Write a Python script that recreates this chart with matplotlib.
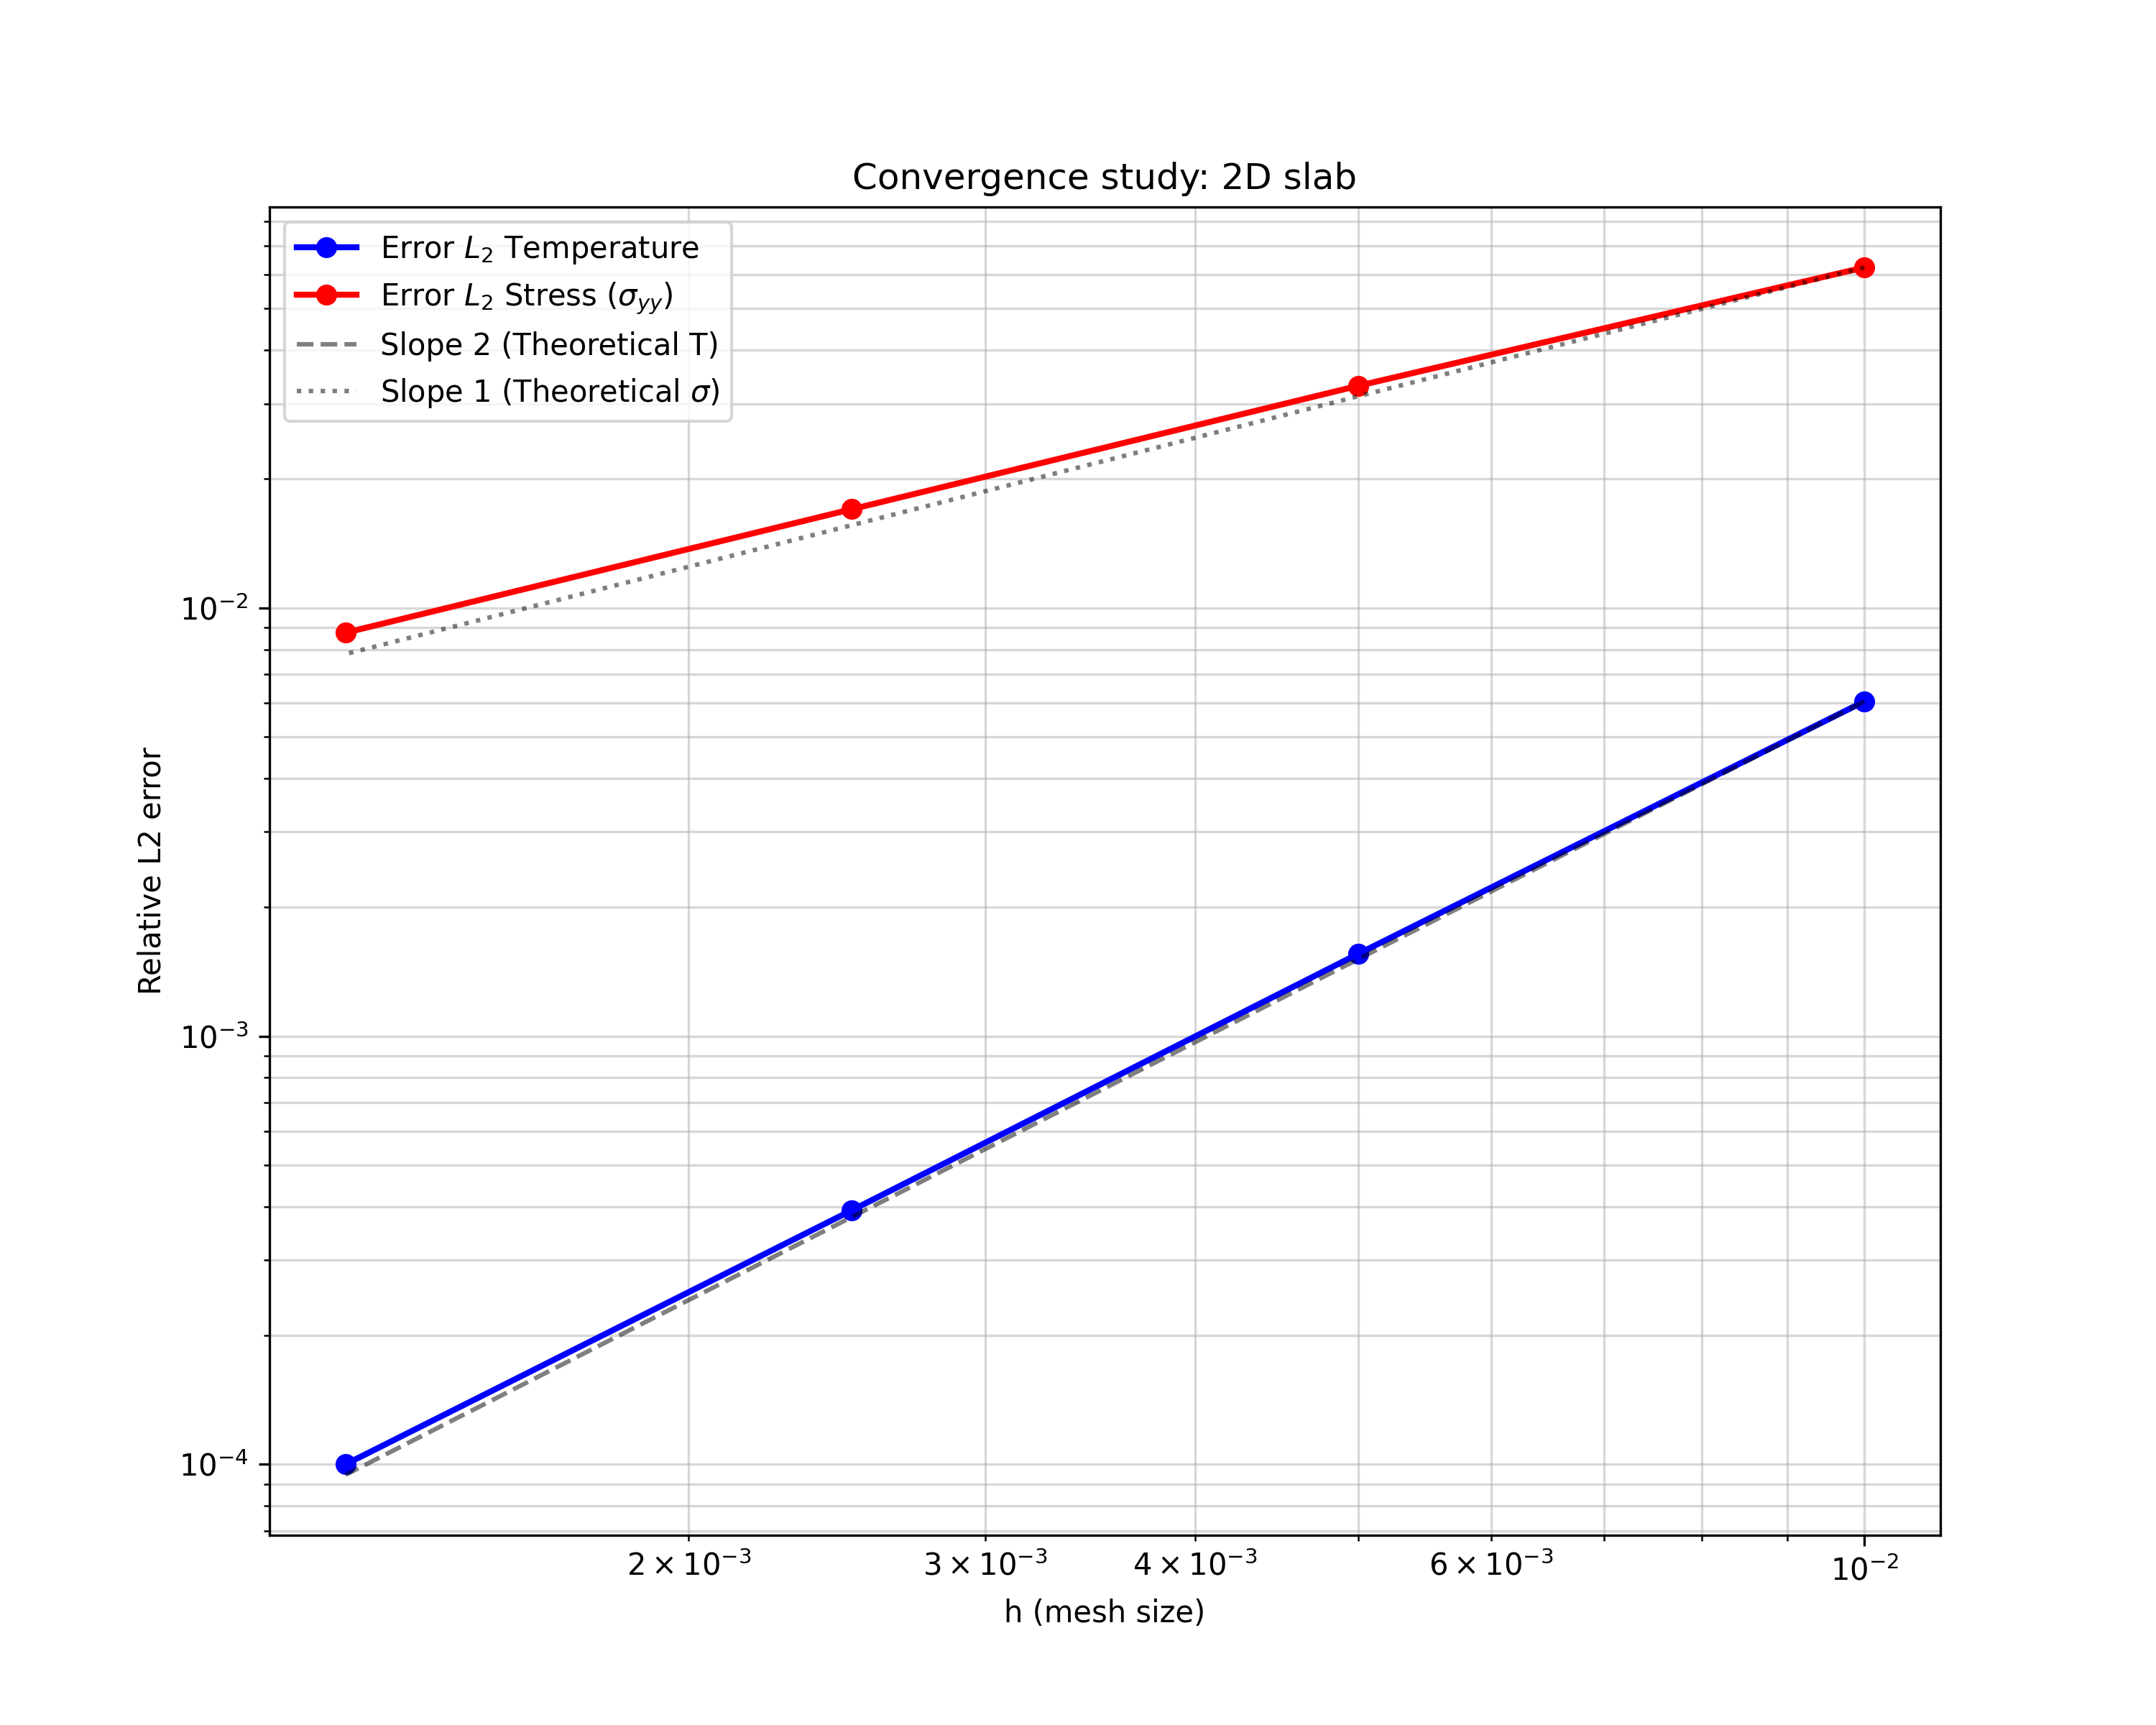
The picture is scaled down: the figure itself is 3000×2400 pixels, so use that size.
import numpy as np
import matplotlib
matplotlib.use('Agg')
import matplotlib.pyplot as plt

# Размеры сетки и ошибки
h = [0.01, 0.005, 0.0025, 0.00125]
err_T = [6.05e-3, 1.556e-3, 3.92e-4, 1.0e-4]
err_sigma = [6.24e-2, 3.30e-2, 1.70e-2, 8.75e-3]

# Теоретические наклоны (привязаны к самому крупному h)
slope2 = [6.05e-3, 1.5125e-3, 3.781e-4, 9.45e-5]
slope1 = [6.24e-2, 3.12e-2, 1.56e-2, 7.8e-3]

plt.figure(figsize=(10, 8))
plt.loglog(h, err_T, 'o-', color='blue', linewidth=2, label='Error $L_2$ Temperature')
plt.loglog(h, err_sigma, 'o-', color='red', linewidth=2, label=r'Error $L_2$ Stress ($\sigma_{yy}$)')
plt.loglog(h, slope2, '--', color='k', alpha=0.5, label='Slope 2 (Theoretical T)')
plt.loglog(h, slope1, ':', color='k', alpha=0.5, label=r'Slope 1 (Theoretical $\sigma$)')

plt.title('Convergence study: 2D slab')
plt.xlabel('h (mesh size)')
plt.ylabel('Relative L2 error')
plt.grid(True, which='both', alpha=0.5)
plt.legend(loc='upper left')

plt.savefig('out.png', dpi=300)
